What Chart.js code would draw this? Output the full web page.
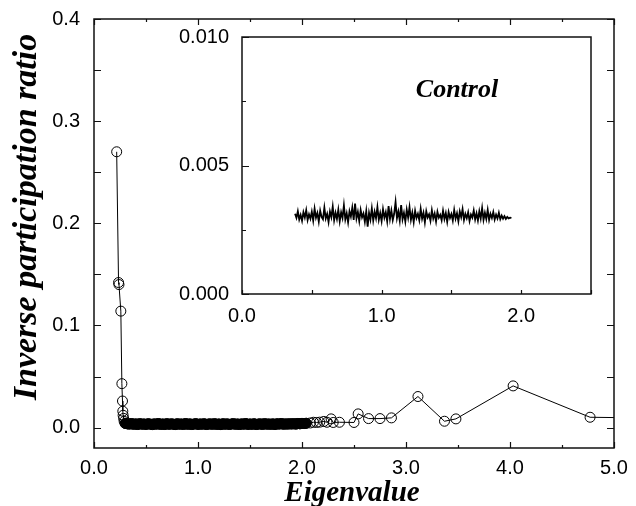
<!DOCTYPE html>
<html>
<head>
<meta charset="utf-8">
<script src="https://cdn.jsdelivr.net/npm/chart.js@4.4.1/dist/chart.umd.min.js"></script>
<style>
  html, body { margin: 0; padding: 0; background: #fff; }
  .wrap { position: relative; width: 636px; height: 506px; }
  #mainChart { position: absolute; left: 0; top: 0; }
  #insetChart { position: absolute; left: 170px; top: 25px; }
</style>
</head>
<body>
<div class="wrap">
  <canvas id="mainChart" width="636" height="506"></canvas>
  <canvas id="insetChart" width="440" height="315"></canvas>
</div>
<script>
// main panel: IPR vs eigenvalue
const headEig = [0.218, 0.236, 0.240, 0.258, 0.268, 0.274, 0.277, 0.280, 0.285, 0.290];
const headIpr = [0.270, 0.142, 0.140, 0.114, 0.043, 0.026, 0.016, 0.012, 0.009, 0.006];

const bulkEig = [
  0.30,0.32,0.34,0.36,0.38,0.40,0.42,0.44,0.46,0.48,
  0.50,0.52,0.54,0.56,0.58,0.60,0.62,0.64,0.66,0.68,
  0.70,0.72,0.74,0.76,0.78,0.80,0.82,0.84,0.86,0.88,
  0.90,0.92,0.94,0.96,0.98,1.00,1.02,1.04,1.06,1.08,
  1.10,1.12,1.14,1.16,1.18,1.20,1.22,1.24,1.26,1.28,
  1.30,1.32,1.34,1.36,1.38,1.40,1.42,1.44,1.46,1.48,
  1.50,1.52,1.54,1.56,1.58,1.60,1.62,1.64,1.66,1.68,
  1.70,1.72,1.74,1.76,1.78,1.80,1.82,1.84,1.86,1.88,
  1.90,1.92,1.94,1.96,1.98,2.00,2.02,2.04
];
const bulkIpr = [
  0.0041,0.0037,0.0034,0.0039,0.0032,0.0036,0.0030,0.0038,0.0033,0.0035,
  0.0031,0.0037,0.0034,0.0029,0.0036,0.0033,0.0039,0.0031,0.0035,0.0030,
  0.0038,0.0032,0.0036,0.0034,0.0029,0.0037,0.0033,0.0035,0.0031,0.0039,
  0.0032,0.0036,0.0030,0.0034,0.0038,0.0031,0.0035,0.0033,0.0037,0.0030,
  0.0034,0.0036,0.0032,0.0038,0.0031,0.0035,0.0029,0.0037,0.0033,0.0036,
  0.0031,0.0034,0.0038,0.0032,0.0035,0.0030,0.0036,0.0033,0.0039,0.0031,
  0.0035,0.0032,0.0037,0.0030,0.0034,0.0036,0.0031,0.0038,0.0033,0.0035,
  0.0032,0.0036,0.0030,0.0037,0.0034,0.0039,0.0033,0.0036,0.0034,0.0037,
  0.0035,0.0038,0.0034,0.0040,0.0037,0.0041,0.0039,0.0042
];

const tailEig = [2.08, 2.11, 2.14, 2.17, 2.21, 2.24, 2.28, 2.30, 2.36, 2.50,
                 2.54, 2.64, 2.75, 2.86, 3.115, 3.37, 3.48, 4.03, 4.77, 5.35];
const tailIpr = [0.0045, 0.0052, 0.0050, 0.0053, 0.0060, 0.0052, 0.0085, 0.0050, 0.0052, 0.0050,
                 0.0134, 0.0088, 0.0088, 0.0095, 0.0304, 0.0062, 0.0085, 0.0408, 0.0101, 0.0093];

const mainXTicks = [0, 1, 2, 3, 4, 5];
const mainYTicks = [0, 0.1, 0.2, 0.3, 0.4];

// inset: control data
const controlEig = [
  0.38,0.39,0.40,0.41,0.42,0.43,0.44,0.45,0.46,0.47,
  0.48,0.49,0.50,0.51,0.52,0.53,0.54,0.55,0.56,0.57,
  0.58,0.59,0.60,0.61,0.62,0.63,0.64,0.65,0.66,0.67,
  0.68,0.69,0.70,0.71,0.72,0.73,0.74,0.75,0.76,0.77,
  0.78,0.79,0.80,0.81,0.82,0.83,0.84,0.85,0.86,0.87,
  0.88,0.89,0.90,0.91,0.92,0.93,0.94,0.95,0.96,0.97,
  0.98,0.99,1.00,1.01,1.02,1.03,1.04,1.05,1.06,1.07,
  1.08,1.09,1.10,1.11,1.12,1.13,1.14,1.15,1.16,1.17,
  1.18,1.19,1.20,1.21,1.22,1.23,1.24,1.25,1.26,1.27,
  1.28,1.29,1.30,1.31,1.32,1.33,1.34,1.35,1.36,1.37,
  1.38,1.39,1.40,1.41,1.42,1.43,1.44,1.45,1.46,1.47,
  1.48,1.49,1.50,1.51,1.52,1.53,1.54,1.55,1.56,1.57,
  1.58,1.59,1.60,1.61,1.62,1.63,1.64,1.65,1.66,1.67,
  1.68,1.69,1.70,1.71,1.72,1.73,1.74,1.75,1.76,1.77,
  1.78,1.79,1.80,1.81,1.82,1.83,1.84,1.85,1.86,1.87,
  1.88,1.89,1.90,1.91,1.92,1.93
];
const controlIpr = [
  0.00312,0.00296,0.00322,0.00290,0.00308,0.00285,0.00318,0.00298,0.00326,0.00288,
  0.00310,0.00293,0.00320,0.00286,0.00332,0.00297,0.00315,0.00282,0.00324,0.00300,
  0.00291,0.00336,0.00294,0.00312,0.00280,0.00321,0.00299,0.00340,0.00287,0.00316,
  0.00292,0.00328,0.00283,0.00318,0.00296,0.00345,0.00290,0.00314,0.00279,0.00322,
  0.00301,0.00336,0.00288,0.00352,0.00294,0.00319,0.00284,0.00327,0.00298,0.00313,
  0.00281,0.00322,0.00262,0.00316,0.00290,0.00333,0.00286,0.00320,0.00295,0.00338,
  0.00289,0.00315,0.00284,0.00330,0.00297,0.00318,0.00283,0.00342,0.00292,0.00325,
  0.00288,0.00312,0.00358,0.00295,0.00321,0.00286,0.00346,0.00291,0.00316,0.00282,
  0.00328,0.00297,0.00338,0.00289,0.00317,0.00280,0.00324,0.00296,0.00312,0.00287,
  0.00331,0.00293,0.00316,0.00279,0.00322,0.00298,0.00310,0.00285,0.00326,0.00294,
  0.00313,0.00282,0.00320,0.00297,0.00308,0.00287,0.00324,0.00292,0.00315,0.00281,
  0.00319,0.00296,0.00311,0.00286,0.00327,0.00293,0.00314,0.00283,0.00321,0.00299,
  0.00330,0.00288,0.00312,0.00295,0.00318,0.00284,0.00309,0.00297,0.00325,0.00290,
  0.00314,0.00286,0.00322,0.00294,0.00334,0.00289,0.00316,0.00292,0.00327,0.00288,
  0.00312,0.00296,0.00319,0.00290,0.00309,0.00294,0.00316,0.00291,0.00305,0.00293,
  0.00303,0.00292,0.00300,0.00294,0.00297,0.00296
];
const insetXTicks = [0, 1, 2];
const insetYTicks = [0, 0.005, 0.01];

const SANS = '"Liberation Sans", Arial, sans-serif';
const SERIF = '"Liberation Serif", "Times New Roman", serif';

function toPoints(xs, ys){
  return xs.map((x, i) => ({ x: x, y: ys[i] }));
}

function noPad(s){
  s.paddingTop = 0; s.paddingBottom = 0; s.paddingLeft = 0; s.paddingRight = 0;
}

// box, inward tick marks and free text
function boxTicks(opts){
  return {
    id: 'boxTicks',
    beforeDatasetsDraw(c){
      const {ctx, chartArea: a} = c;
      if(opts.fill){
        ctx.save();
        ctx.fillStyle = '#fff';
        ctx.fillRect(a.left, a.top, a.right - a.left, a.bottom - a.top);
        ctx.restore();
      }
    },
    afterDraw(c){
      const {ctx, chartArea: a, scales} = c;
      ctx.save();
      ctx.strokeStyle = '#111';
      ctx.lineWidth = 1.5;
      ctx.strokeRect(a.left, a.top, a.right - a.left, a.bottom - a.top);
      ctx.lineWidth = 1.2;
      ctx.beginPath();
      opts.xMarks.forEach(m => {
        const px = Math.round(scales.x.getPixelForValue(m.v)) + 0.5;
        ctx.moveTo(px, a.bottom); ctx.lineTo(px, a.bottom - m.len);
        if(opts.allSides){ ctx.moveTo(px, a.top); ctx.lineTo(px, a.top + m.len); }
      });
      opts.yMarks.forEach(m => {
        const py = Math.round(scales.y.getPixelForValue(m.v)) + 0.5;
        ctx.moveTo(a.left, py); ctx.lineTo(a.left + m.len, py);
        if(opts.allSides){ ctx.moveTo(a.right, py); ctx.lineTo(a.right - m.len, py); }
      });
      ctx.stroke();

      ctx.fillStyle = '#000';
      ctx.textAlign = 'center';
      ctx.textBaseline = 'alphabetic';
      if(opts.label){
        ctx.font = opts.label.font;
        ctx.fillText(opts.label.text, scales.x.getPixelForValue(opts.label.x), scales.y.getPixelForValue(opts.label.y));
      }
      if(opts.xTitle){
        ctx.font = opts.xTitle.font;
        ctx.fillText(opts.xTitle.text, opts.xTitle.x, opts.xTitle.y);
      }
      if(opts.yTitle){
        ctx.font = opts.yTitle.font;
        ctx.translate(opts.yTitle.x, opts.yTitle.y);
        ctx.rotate(-Math.PI / 2);
        ctx.fillText(opts.yTitle.text, 0, 0);
      }
      ctx.restore();
    }
  };
}

(function(){
  const el = document.getElementById('mainChart');
  const allPoints = toPoints(headEig.concat(bulkEig, tailEig), headIpr.concat(bulkIpr, tailIpr));

  const xMarks = [];
  for(let i = 0; i <= 10; i++) xMarks.push({ v: i * 0.5, len: i % 2 ? 3 : 6 });
  const yMarks = [];
  for(let i = 0; i <= 8; i++) yMarks.push({ v: i * 0.05, len: 7 });

  new Chart(el, {
    type: 'scatter',
    data: {
      datasets: [
        {
          // the bulk of the spectrum is so dense its circles merge into a black band
          data: toPoints(bulkEig, bulkIpr),
          showLine: false,
          pointStyle: 'circle',
          pointRadius: 5,
          pointBorderWidth: 1,
          pointBorderColor: '#000',
          pointBackgroundColor: '#000'
        },
        {
          data: allPoints,
          showLine: true,
          borderColor: '#000',
          borderWidth: 1,
          pointStyle: 'circle',
          pointRadius: 5,
          pointBorderWidth: 1,
          pointBorderColor: '#000',
          pointBackgroundColor: 'rgba(0,0,0,0)',
          tension: 0
        }
      ]
    },
    options: {
      responsive: false,
      animation: false,
      events: [],
      layout: { padding: { left: 0, right: 22, top: 19, bottom: 0 } },
      plugins: { legend: { display: false }, tooltip: { enabled: false } },
      scales: {
        x: {
          type: 'linear', min: 0, max: 5,
          grid: { display: false, drawTicks: false }, border: { display: false },
          afterBuildTicks: s => { s.ticks = mainXTicks.map(v => ({ value: v })); },
          afterFit: s => { s.height = 58; noPad(s); },
          ticks: { color: '#000', padding: 8, font: { family: SANS, size: 20 }, callback: v => v.toFixed(1) }
        },
        y: {
          type: 'linear', min: -0.02, max: 0.4,
          grid: { display: false, drawTicks: false }, border: { display: false },
          afterBuildTicks: s => { s.ticks = mainYTicks.map(v => ({ value: v })); },
          afterFit: s => { s.width = 94; noPad(s); },
          ticks: { color: '#000', padding: 14, font: { family: SANS, size: 20 }, callback: v => v.toFixed(1) }
        }
      }
    },
    plugins: [boxTicks({
      xMarks, yMarks, allSides: true,
      xTitle: { text: 'Eigenvalue', x: 352, y: 501, font: 'italic bold 29px ' + SERIF },
      yTitle: { text: 'Inverse participation ratio', x: 36, y: 217, font: 'italic bold 34px ' + SERIF }
    })]
  });
})();

(function(){
  const el = document.getElementById('insetChart');

  const xMarks = [];
  for(let i = 0; i <= 5; i++) xMarks.push({ v: i * 0.5, len: 4 });
  const yMarks = [];
  for(let i = 0; i <= 4; i++) yMarks.push({ v: i * 0.0025, len: i % 2 ? 4 : 7 });

  new Chart(el, {
    type: 'scatter',
    data: {
      datasets: [{
        data: toPoints(controlEig, controlIpr),
        showLine: true,
        borderColor: '#000',
        borderWidth: 1.8,
        pointRadius: 0,
        tension: 0
      }]
    },
    options: {
      responsive: false,
      animation: false,
      events: [],
      layout: { padding: { left: 0, right: 19, top: 12, bottom: 0 } },
      plugins: { legend: { display: false }, tooltip: { enabled: false } },
      scales: {
        x: {
          type: 'linear', min: 0, max: 2.5,
          grid: { display: false, drawTicks: false }, border: { display: false },
          afterBuildTicks: s => { s.ticks = insetXTicks.map(v => ({ value: v })); },
          afterFit: s => { s.height = 46; noPad(s); },
          ticks: { color: '#000', padding: 10, font: { family: SANS, size: 20 }, callback: v => v.toFixed(1) }
        },
        y: {
          type: 'linear', min: 0, max: 0.01,
          grid: { display: false, drawTicks: false }, border: { display: false },
          afterBuildTicks: s => { s.ticks = insetYTicks.map(v => ({ value: v })); },
          afterFit: s => { s.width = 72; noPad(s); },
          ticks: { color: '#000', padding: 13, font: { family: SANS, size: 20 }, callback: v => v.toFixed(3) }
        }
      }
    },
    plugins: [boxTicks({
      xMarks, yMarks, allSides: false, fill: true,
      label: { text: 'Control', x: 1.54, y: 0.00767, font: 'italic bold 26px ' + SERIF }
    })]
  });
})();
</script>
</body>
</html>
